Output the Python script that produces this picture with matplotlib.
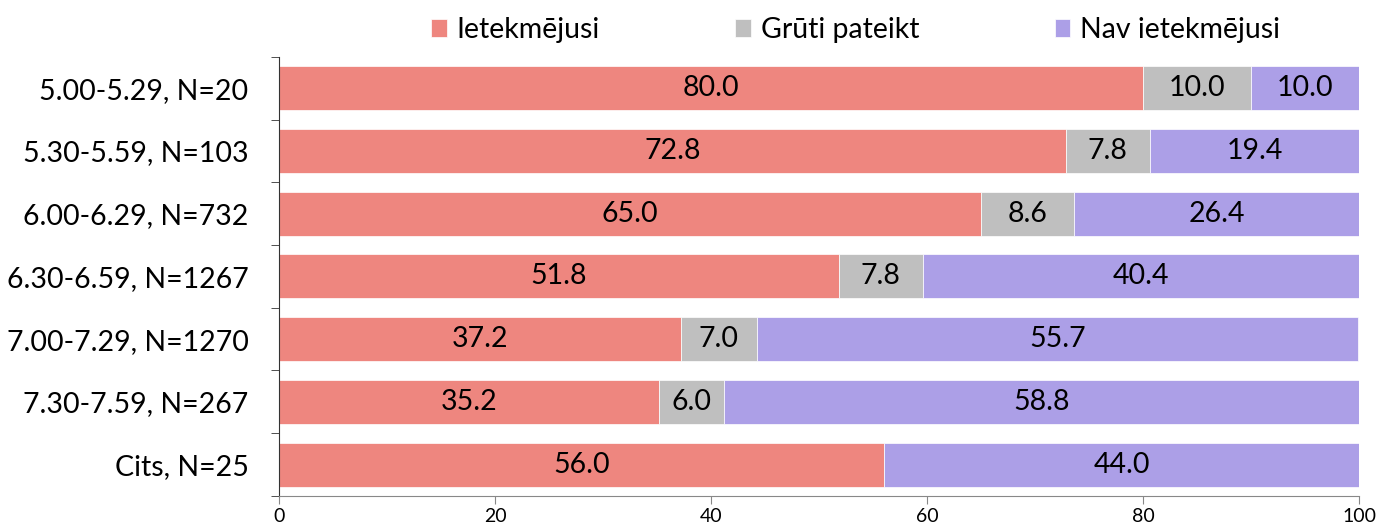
import numpy as np
import matplotlib.pyplot as plt

plt.rcParams['font.family'] = ['Lato', 'DejaVu Sans']

categories = ["5.00-5.29, N=20", "5.30-5.59, N=103", "6.00-6.29, N=732",
              "6.30-6.59, N=1267", "7.00-7.29, N=1270", "7.30-7.59, N=267",
              "Cits, N=25"]
influenced = [80.0, 72.8, 65.0, 51.8, 37.2, 35.2, 56.0]
hard_to_say = [10.0, 7.8, 8.6, 7.8, 7.0, 6.0, 0.0]
not_influenced = [10.0, 19.4, 26.4, 40.4, 55.7, 58.8, 44.0]

series = [("Ietekmējusi", influenced, "#EE867F"),
          ("Grūti pateikt", hard_to_say, "#BFBFBF"),
          ("Nav ietekmējusi", not_influenced, "#AC9FE7")]

fig = plt.figure(figsize=(13.78, 5.31), dpi=100)
ax = fig.add_axes([0.2025, 0.066, 0.784, 0.827])

y = np.arange(len(categories))
left = np.zeros(len(categories))
for name, vals, col in series:
    vals = np.array(vals)
    ax.barh(y, vals, left=left, height=0.7, color=col, label=name,
            edgecolor="white", linewidth=0.5)
    for yi, l, v in zip(y, left, vals):
        if v > 0:
            ax.text(l + v / 2, yi, f"{v:.1f}", ha="center", va="center",
                    fontsize=20.5, color="black")
    left += vals

ax.set_ylim(len(categories) - 0.5, -0.5)
ax.set_xlim(0, 100)
ax.set_xticks([0, 20, 40, 60, 80, 100])
ax.tick_params(axis="x", labelsize=14, length=6, color="#888888", pad=3)
ax.set_yticks(y)
ax.set_yticklabels(categories, fontsize=20.5)
ax.set_yticks(np.arange(-0.5, len(categories)), minor=True)
ax.tick_params(axis="y", which="major", length=0, pad=22)
ax.tick_params(axis="y", which="minor", length=6, color="#333333")
for s in ["top", "right"]:
    ax.spines[s].set_visible(False)
ax.spines["bottom"].set_color("#888888")
ax.spines["left"].set_color("#333333")

fig.legend(*ax.get_legend_handles_labels(), loc="center",
           bbox_to_anchor=(0.621, 0.9435), ncol=3, frameon=False,
           fontsize=20.5, handlelength=0.55, handleheight=0.55,
           handletextpad=0.35, columnspacing=4.75)

fig.savefig("out.png", dpi=100)
